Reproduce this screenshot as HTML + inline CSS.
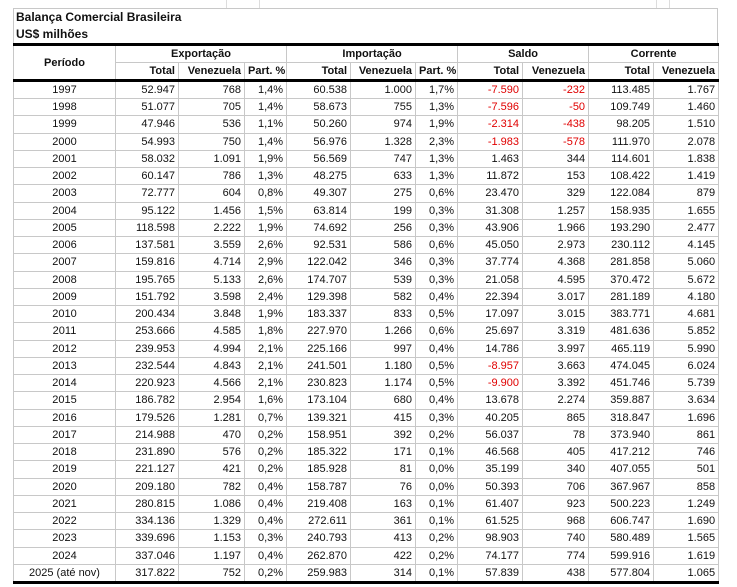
<!DOCTYPE html>
<html><head><meta charset="utf-8">
<style>
body{margin:0;background:#fff;width:737px;height:587px;overflow:hidden;position:relative;font-family:"Liberation Sans",sans-serif;}
.tab1{position:absolute;left:226px;top:0;width:32px;height:8px;border:1px solid #ddd;border-top:none;}
.tab2{position:absolute;left:656px;top:0;width:12px;height:8px;border:1px solid #ddd;border-top:none;}
.title{position:absolute;left:13px;top:8px;width:705px;height:36px;border:1px solid #c8c8c8;border-bottom:none;box-sizing:border-box;font-size:12px;font-weight:bold;color:#111;padding-left:2px;line-height:17px;}
table{position:absolute;left:13px;top:43px;width:705px;border-collapse:collapse;table-layout:fixed;font-size:11px;color:#111;}
td{border:1px solid #c8c8c8;padding:0 3px;height:17.25px;line-height:16px;text-align:right;white-space:nowrap;overflow:hidden;box-sizing:border-box;}
td:first-child{text-align:center;}
thead td{font-weight:bold;text-align:center;}
thead tr:first-child td{border-top:3px solid #000;}
thead tr.h2 td{border-bottom:3px solid #000;text-align:right;}
tbody tr:last-child td{border-bottom:3px solid #000;}
.r{color:#e00000;}
</style></head><body>
<div class="tab1"></div><div class="tab2"></div>
<div class="title">Balança Comercial Brasileira<br>US$ milhões</div>
<table>
<colgroup><col style="width:102px"><col style="width:63px"><col style="width:66px"><col style="width:42px"><col style="width:64px"><col style="width:65px"><col style="width:42px"><col style="width:65px"><col style="width:66px"><col style="width:65px"><col style="width:65px"></colgroup>
<thead>
<tr><td rowspan="2" style="text-align:center;border-bottom:3px solid #000">Período</td><td colspan="3">Exportação</td><td colspan="3">Importação</td><td colspan="2">Saldo</td><td colspan="2">Corrente</td></tr>
<tr class="h2"><td>Total</td><td>Venezuela</td><td>Part. %</td><td>Total</td><td>Venezuela</td><td>Part. %</td><td>Total</td><td>Venezuela</td><td>Total</td><td>Venezuela</td></tr>
</thead>
<tbody>
<tr><td>1997</td><td>52.947</td><td>768</td><td>1,4%</td><td>60.538</td><td>1.000</td><td>1,7%</td><td class="r">-7.590</td><td class="r">-232</td><td>113.485</td><td>1.767</td></tr>
<tr><td>1998</td><td>51.077</td><td>705</td><td>1,4%</td><td>58.673</td><td>755</td><td>1,3%</td><td class="r">-7.596</td><td class="r">-50</td><td>109.749</td><td>1.460</td></tr>
<tr><td>1999</td><td>47.946</td><td>536</td><td>1,1%</td><td>50.260</td><td>974</td><td>1,9%</td><td class="r">-2.314</td><td class="r">-438</td><td>98.205</td><td>1.510</td></tr>
<tr><td>2000</td><td>54.993</td><td>750</td><td>1,4%</td><td>56.976</td><td>1.328</td><td>2,3%</td><td class="r">-1.983</td><td class="r">-578</td><td>111.970</td><td>2.078</td></tr>
<tr><td>2001</td><td>58.032</td><td>1.091</td><td>1,9%</td><td>56.569</td><td>747</td><td>1,3%</td><td>1.463</td><td>344</td><td>114.601</td><td>1.838</td></tr>
<tr><td>2002</td><td>60.147</td><td>786</td><td>1,3%</td><td>48.275</td><td>633</td><td>1,3%</td><td>11.872</td><td>153</td><td>108.422</td><td>1.419</td></tr>
<tr><td>2003</td><td>72.777</td><td>604</td><td>0,8%</td><td>49.307</td><td>275</td><td>0,6%</td><td>23.470</td><td>329</td><td>122.084</td><td>879</td></tr>
<tr><td>2004</td><td>95.122</td><td>1.456</td><td>1,5%</td><td>63.814</td><td>199</td><td>0,3%</td><td>31.308</td><td>1.257</td><td>158.935</td><td>1.655</td></tr>
<tr><td>2005</td><td>118.598</td><td>2.222</td><td>1,9%</td><td>74.692</td><td>256</td><td>0,3%</td><td>43.906</td><td>1.966</td><td>193.290</td><td>2.477</td></tr>
<tr><td>2006</td><td>137.581</td><td>3.559</td><td>2,6%</td><td>92.531</td><td>586</td><td>0,6%</td><td>45.050</td><td>2.973</td><td>230.112</td><td>4.145</td></tr>
<tr><td>2007</td><td>159.816</td><td>4.714</td><td>2,9%</td><td>122.042</td><td>346</td><td>0,3%</td><td>37.774</td><td>4.368</td><td>281.858</td><td>5.060</td></tr>
<tr><td>2008</td><td>195.765</td><td>5.133</td><td>2,6%</td><td>174.707</td><td>539</td><td>0,3%</td><td>21.058</td><td>4.595</td><td>370.472</td><td>5.672</td></tr>
<tr><td>2009</td><td>151.792</td><td>3.598</td><td>2,4%</td><td>129.398</td><td>582</td><td>0,4%</td><td>22.394</td><td>3.017</td><td>281.189</td><td>4.180</td></tr>
<tr><td>2010</td><td>200.434</td><td>3.848</td><td>1,9%</td><td>183.337</td><td>833</td><td>0,5%</td><td>17.097</td><td>3.015</td><td>383.771</td><td>4.681</td></tr>
<tr><td>2011</td><td>253.666</td><td>4.585</td><td>1,8%</td><td>227.970</td><td>1.266</td><td>0,6%</td><td>25.697</td><td>3.319</td><td>481.636</td><td>5.852</td></tr>
<tr><td>2012</td><td>239.953</td><td>4.994</td><td>2,1%</td><td>225.166</td><td>997</td><td>0,4%</td><td>14.786</td><td>3.997</td><td>465.119</td><td>5.990</td></tr>
<tr><td>2013</td><td>232.544</td><td>4.843</td><td>2,1%</td><td>241.501</td><td>1.180</td><td>0,5%</td><td class="r">-8.957</td><td>3.663</td><td>474.045</td><td>6.024</td></tr>
<tr><td>2014</td><td>220.923</td><td>4.566</td><td>2,1%</td><td>230.823</td><td>1.174</td><td>0,5%</td><td class="r">-9.900</td><td>3.392</td><td>451.746</td><td>5.739</td></tr>
<tr><td>2015</td><td>186.782</td><td>2.954</td><td>1,6%</td><td>173.104</td><td>680</td><td>0,4%</td><td>13.678</td><td>2.274</td><td>359.887</td><td>3.634</td></tr>
<tr><td>2016</td><td>179.526</td><td>1.281</td><td>0,7%</td><td>139.321</td><td>415</td><td>0,3%</td><td>40.205</td><td>865</td><td>318.847</td><td>1.696</td></tr>
<tr><td>2017</td><td>214.988</td><td>470</td><td>0,2%</td><td>158.951</td><td>392</td><td>0,2%</td><td>56.037</td><td>78</td><td>373.940</td><td>861</td></tr>
<tr><td>2018</td><td>231.890</td><td>576</td><td>0,2%</td><td>185.322</td><td>171</td><td>0,1%</td><td>46.568</td><td>405</td><td>417.212</td><td>746</td></tr>
<tr><td>2019</td><td>221.127</td><td>421</td><td>0,2%</td><td>185.928</td><td>81</td><td>0,0%</td><td>35.199</td><td>340</td><td>407.055</td><td>501</td></tr>
<tr><td>2020</td><td>209.180</td><td>782</td><td>0,4%</td><td>158.787</td><td>76</td><td>0,0%</td><td>50.393</td><td>706</td><td>367.967</td><td>858</td></tr>
<tr><td>2021</td><td>280.815</td><td>1.086</td><td>0,4%</td><td>219.408</td><td>163</td><td>0,1%</td><td>61.407</td><td>923</td><td>500.223</td><td>1.249</td></tr>
<tr><td>2022</td><td>334.136</td><td>1.329</td><td>0,4%</td><td>272.611</td><td>361</td><td>0,1%</td><td>61.525</td><td>968</td><td>606.747</td><td>1.690</td></tr>
<tr><td>2023</td><td>339.696</td><td>1.153</td><td>0,3%</td><td>240.793</td><td>413</td><td>0,2%</td><td>98.903</td><td>740</td><td>580.489</td><td>1.565</td></tr>
<tr><td>2024</td><td>337.046</td><td>1.197</td><td>0,4%</td><td>262.870</td><td>422</td><td>0,2%</td><td>74.177</td><td>774</td><td>599.916</td><td>1.619</td></tr>
<tr><td>2025 (até nov)</td><td>317.822</td><td>752</td><td>0,2%</td><td>259.983</td><td>314</td><td>0,1%</td><td>57.839</td><td>438</td><td>577.804</td><td>1.065</td></tr>
</tbody>
</table>
</body></html>
